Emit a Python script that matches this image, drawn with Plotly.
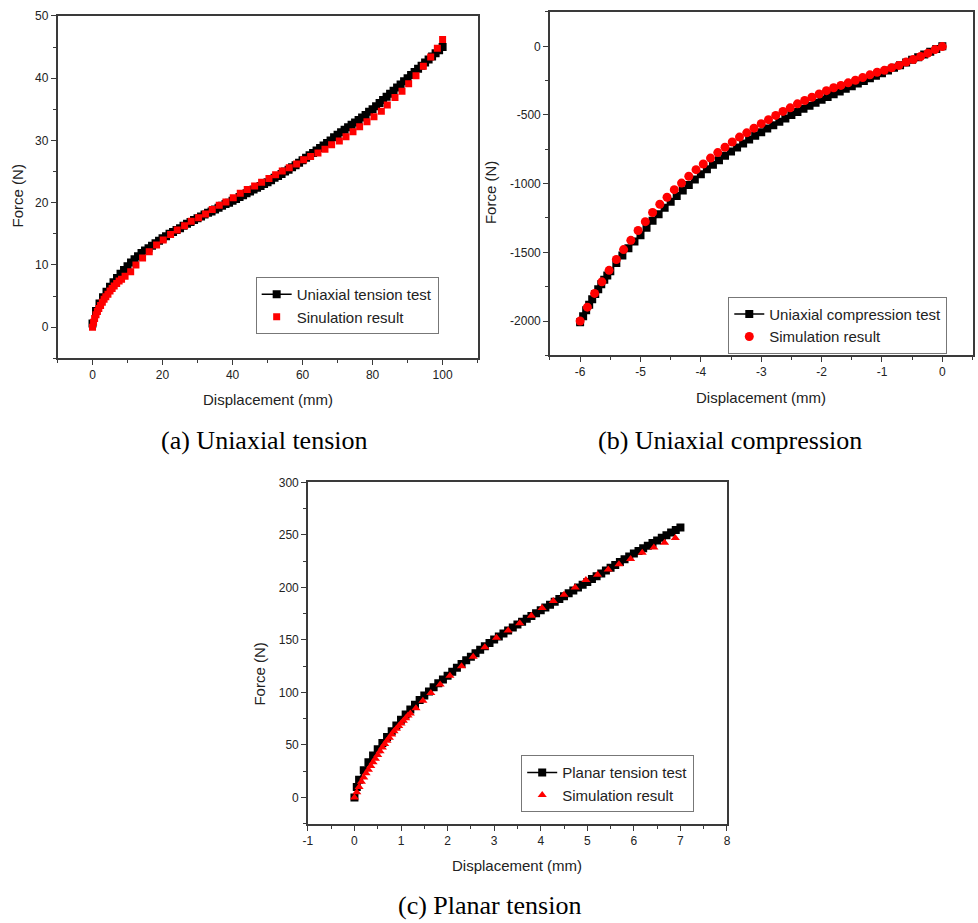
import plotly.graph_objects as go

# ---------------- (a) Uniaxial tension ----------------
a_test_x = list(range(0, 101))
a_test_y = [0.6, 2.6, 3.8, 4.8, 5.7, 6.5, 7.2, 7.9, 8.6, 9.2,
            9.8, 10.4, 10.9, 11.4, 11.9, 12.3, 12.7, 13.1, 13.5, 13.9,
            14.3, 14.6, 15.0, 15.3, 15.6, 15.9, 16.3, 16.6, 16.9, 17.2,
            17.5, 17.8, 18.1, 18.4, 18.6, 18.9, 19.2, 19.5, 19.8, 20.0,
            20.3, 20.6, 20.9, 21.2, 21.5, 21.8, 22.1, 22.4, 22.7, 23.0,
            23.3, 23.6, 24.0, 24.3, 24.6, 25.0, 25.3, 25.7, 26.0, 26.4,
            26.8, 27.2, 27.6, 28.0, 28.4, 28.8, 29.2, 29.6, 30.0, 30.5,
            30.9, 31.3, 31.7, 32.1, 32.5, 32.9, 33.3, 33.7, 34.1, 34.6,
            35.0, 35.5, 36.0, 36.5, 37.0, 37.5, 38.0, 38.5, 39.0, 39.5,
            40.0, 40.5, 41.0, 41.5, 42.0, 42.5, 43.0, 43.5, 44.0, 44.5,
            45.0]
a_sim_x = [0.0, 0.3, 0.6, 1.0, 1.4, 1.8, 2.3, 2.8, 3.3, 3.8, 4.4, 5.0, 5.6, 6.2,
           6.9, 7.6, 8.3, 9.3, 10.9, 12.4, 14.3, 16.2, 18.3, 20.2, 22.3, 24.2,
           26.3, 28.2, 30.3, 32.3, 34.2, 36.2, 38.1, 40.2, 42.2, 44.2, 46.3,
           48.3, 50.4, 52.3, 54.2, 56.2, 58.3, 60.3, 62.3, 64.4, 66.4, 68.3,
           70.5, 72.4, 74.4, 76.3, 78.4, 80.4, 82.5, 84.2, 86.4, 88.4, 90.3,
           92.4, 94.5, 96.6, 98.5, 100.0]
a_sim_y = [0.0, 0.8, 1.4, 2.0, 2.5, 3.0, 3.5, 4.0, 4.5, 4.9, 5.3, 5.8, 6.2, 6.6,
           7.0, 7.4, 7.7, 8.2, 8.9, 10.0, 11.1, 12.1, 13.2, 14.0, 14.9, 15.6,
           16.3, 17.0, 17.6, 18.2, 18.9, 19.6, 20.1, 20.8, 21.5, 22.1, 22.7,
           23.3, 23.9, 24.5, 25.1, 25.6, 26.2, 26.9, 27.4, 28.0, 28.6, 29.3,
           29.9, 30.6, 31.4, 32.2, 33.0, 33.8, 34.7, 35.7, 36.9, 37.9, 39.1,
           40.4, 41.9, 43.4, 44.8, 46.2]
a_xticks = [0, 20, 40, 60, 80, 100]
a_yticks = [0, 10, 20, 30, 40, 50]

# ---------------- (b) Uniaxial compression ----------------
b_test_x = [-6.0, -5.95, -5.9, -5.85, -5.8, -5.75, -5.7, -5.65, -5.6, -5.55, -5.5,
            -5.4, -5.3, -5.2, -5.1, -5.0, -4.9, -4.8, -4.7, -4.6, -4.5,
            -4.4, -4.3, -4.2, -4.1, -4.0, -3.9, -3.8, -3.7, -3.6, -3.5,
            -3.4, -3.3, -3.2, -3.1, -3.0, -2.9, -2.8, -2.7, -2.6, -2.5,
            -2.4, -2.3, -2.2, -2.1, -2.0, -1.9, -1.8, -1.7, -1.6, -1.5,
            -1.4, -1.3, -1.2, -1.1, -1.0, -0.9, -0.8, -0.7, -0.6, -0.5,
            -0.4, -0.3, -0.2, -0.1, 0.0]
b_test_y = [-2010, -1965, -1922, -1881, -1842, -1804, -1768, -1733, -1700, -1668, -1637,
            -1578, -1523, -1471, -1422, -1375, -1321, -1270, -1222, -1176, -1132,
            -1090, -1049, -1009, -970, -932, -896, -862, -829, -797, -766,
            -736, -707, -679, -652, -625, -599, -574, -549, -525, -501,
            -478, -455, -433, -411, -390, -369, -349, -329, -309, -290,
            -271, -252, -233, -215, -197, -177, -157, -138, -118, -98,
            -79, -59, -39, -20, 0]
b_sim_x = [-6.0, -5.88, -5.76, -5.64, -5.52, -5.4, -5.28, -5.16, -5.04, -4.92,
           -4.8, -4.68, -4.56, -4.44, -4.32, -4.2, -4.08, -3.96, -3.84, -3.72,
           -3.6, -3.48, -3.36, -3.24, -3.12, -3.0, -2.88, -2.76, -2.64, -2.52,
           -2.4, -2.28, -2.16, -2.04, -1.92, -1.8, -1.68, -1.56, -1.44, -1.32,
           -1.2, -1.08, -0.96, -0.84, -0.72, -0.6, -0.48, -0.36, -0.24, -0.12, 0.0]
b_sim_y = [-2000, -1899, -1799, -1715, -1631, -1552, -1480, -1413, -1341, -1277,
           -1210, -1150, -1099, -1044, -996, -946, -898, -857, -814, -774,
           -735, -697, -661, -630, -596, -563, -534, -503, -474, -448,
           -419, -395, -371, -347, -323, -302, -285, -266, -247, -228,
           -208, -189, -175, -156, -139, -115, -96, -74, -50, -24, -2]
b_xticks = [-6, -5, -4, -3, -2, -1, 0]
b_xtext = ["-6", "-5", "-4", "-3", "-2", "-1", "0"]
b_yticks = [-2000, -1500, -1000, -500, 0]
b_ytext = ["-2000", "-1500", "-1000", "-500", "0"]

# ---------------- (c) Planar tension ----------------
c_test_x = [0.0, 0.05, 0.1, 0.2, 0.3, 0.4, 0.5, 0.6, 0.7, 0.8, 0.9,
            1.0, 1.1, 1.2, 1.3, 1.4, 1.5, 1.6, 1.7, 1.8, 1.9,
            2.0, 2.1, 2.2, 2.3, 2.4, 2.5, 2.6, 2.7, 2.8, 2.9,
            3.0, 3.1, 3.2, 3.3, 3.4, 3.5, 3.6, 3.7, 3.8, 3.9,
            4.0, 4.1, 4.2, 4.3, 4.4, 4.5, 4.6, 4.7, 4.8, 4.9,
            5.0, 5.1, 5.2, 5.3, 5.4, 5.5, 5.6, 5.7, 5.8, 5.9,
            6.0, 6.1, 6.2, 6.3, 6.4, 6.5, 6.6, 6.7, 6.8, 6.9, 7.0]
c_test_y = [0, 10, 17, 26, 33.5, 40, 46, 52, 57.5, 63, 68.5,
            74, 79, 83.8, 88.4, 92.8, 97, 101, 104.9, 108.7, 112.4,
            116, 119.8, 123.5, 127.1, 130.6, 134, 137.4, 140.7, 144, 147.2,
            150.4, 153.3, 156.2, 159, 161.8, 164.6, 167.4, 170.1, 172.8, 175.5,
            178.2, 180.9, 183.6, 186.3, 189, 191.7, 194.4, 197.1, 199.8, 202.5,
            205.2, 207.9, 210.6, 213.3, 216, 218.7, 221.4, 224.1, 226.8, 229.5,
            232.2, 234.7, 237.2, 239.7, 242.2, 244.7, 247.2, 249.7, 252.2, 254.7, 257]
c_sim_x = [0.0, 0.05, 0.1, 0.15, 0.2, 0.25, 0.3, 0.35, 0.4, 0.45, 0.5, 0.55, 0.6,
           0.65, 0.7, 0.75, 0.8, 0.85, 0.9, 0.95, 1.0, 1.05, 1.1, 1.15, 1.2,
           1.32, 1.47, 1.64, 1.84, 2.05, 2.3, 2.55, 2.8, 3.05, 3.3, 3.55, 3.8,
           4.03, 4.27, 4.5, 4.74, 4.97, 5.22, 5.45, 5.68, 5.93, 6.18, 6.43,
           6.66, 6.89]
c_sim_y = [0, 5, 10, 15, 19, 23, 26.5, 30, 33.5, 37, 40.5, 44, 47.5,
           51, 54, 57, 60, 63, 65.5, 68, 70.5, 73, 75.5, 78, 80,
           85, 92, 99.5, 107.5, 116, 125, 134, 143, 152, 159, 166, 173,
           180.5, 187, 193, 200, 207, 212, 217, 222, 227, 233, 238,
           242.5, 247]
c_xticks = [-1, 0, 1, 2, 3, 4, 5, 6, 7, 8]
c_xtext = ["-1", "0", "1", "2", "3", "4", "5", "6", "7", "8"]
c_yticks = [0, 50, 100, 150, 200, 250, 300]

captions = ["(a) Uniaxial tension", "(b) Uniaxial compression", "(c) Planar tension"]
test_names = ["Uniaxial tension test", "Uniaxial compression test", "Planar tension test"]
sim_names = ["Sinulation result", "Simulation result", "Simulation result"]

SANS = "Liberation Sans, Arial, sans-serif"
SERIF = "Liberation Serif, Times New Roman, serif"
AX = "#3a3a3a"

fig = go.Figure()

panels = [
    dict(tx=a_test_x, ty=a_test_y, sx=a_sim_x, sy=a_sim_y, sym="square", ssize=7,
         xa="x", ya="y", leg="legend"),
    dict(tx=b_test_x, ty=b_test_y, sx=b_sim_x, sy=b_sim_y, sym="circle", ssize=9,
         xa="x2", ya="y2", leg="legend2"),
    dict(tx=c_test_x, ty=c_test_y, sx=c_sim_x, sy=c_sim_y, sym="triangle-up", ssize=8,
         xa="x3", ya="y3", leg="legend3"),
]
for i, p in enumerate(panels):
    fig.add_trace(go.Scatter(
        x=p["tx"], y=p["ty"], mode="lines+markers", name=test_names[i],
        line=dict(color="black", width=1.5),
        marker=dict(symbol="square", size=8, color="black"),
        xaxis=p["xa"], yaxis=p["ya"], legend=p["leg"]))
    fig.add_trace(go.Scatter(
        x=p["sx"], y=p["sy"], mode="markers", name=sim_names[i],
        marker=dict(symbol=p["sym"], size=p["ssize"], color="#ff0000"),
        xaxis=p["xa"], yaxis=p["ya"], legend=p["leg"]))


def axis(domain, rng, tickvals, ticktext, minor_dtick, anchor, tick0=0):
    return dict(domain=domain, range=rng, tickmode="array", tickvals=tickvals,
                ticktext=ticktext,
                anchor=anchor, showline=True, linecolor=AX, linewidth=1.5,
                mirror=True, ticks="outside", ticklen=5, tickwidth=1.2,
                tickcolor=AX, showgrid=False, zeroline=False,
                tickfont=dict(family=SANS, size=12, color="#222"),
                minor=dict(ticks="outside", ticklen=3, tickwidth=1, tickcolor=AX,
                           tickmode="linear", dtick=minor_dtick, tick0=tick0,
                           showgrid=False))

W, H = 978, 923
def dx(a, b):
    return [a / W, b / W]
def dy(top, bottom):
    return [1 - bottom / H, 1 - top / H]

fig.update_layout(
    width=W, height=H, margin=dict(l=0, r=0, t=0, b=0),
    paper_bgcolor="white", plot_bgcolor="white",
    xaxis=axis(dx(53, 477), [-10, 110], a_xticks, [str(v) for v in a_xticks], 10, "y"),
    yaxis=axis(dy(9, 354), [-5, 50], a_yticks, [str(v) for v in a_yticks], 5, "x"),
    xaxis2=axis(dx(550, 976.5), [-6.5, 0.5], b_xticks, b_xtext, 0.5, "y2"),
    yaxis2=axis(dy(5, 351), [-2250, 250], b_yticks, b_ytext, 250, "x2"),
    xaxis3=axis(dx(305.7, 728.7), [-1, 8], c_xticks, c_xtext, 0.5, "y3"),
    yaxis3=axis(dy(479, 823), [-25, 300], c_yticks, [str(v) for v in c_yticks], 25, "x3"),
)

leg_common = dict(bgcolor="rgba(255,255,255,1)", bordercolor="#777", borderwidth=1,
                  font=dict(family=SANS, size=15, color="#222"),
                  xanchor="left", yanchor="top", tracegroupgap=0,
                  itemwidth=30)
fig.update_layout(
    showlegend=True,
    legend=dict(x=253 / W, y=1 - 272 / H, **leg_common),
    legend2=dict(x=730 / W, y=1 - 292 / H, **leg_common),
    legend3=dict(x=521 / W, y=1 - 754 / H, **leg_common),
)

ann = []
def add_title(text, x, y, rot=0):
    ann.append(dict(text=text, x=x / W, y=1 - y / H, xref="paper", yref="paper",
                    showarrow=False, textangle=rot, xanchor="center", yanchor="middle",
                    font=dict(family=SANS, size=15, color="#222")))

add_title("Displacement (mm)", 265, 395)
add_title("Force (N)", 13, 190, -90)
add_title("Displacement (mm)", 763, 393)
add_title("Force (N)", 490, 187, -90)
add_title("Displacement (mm)", 517, 865)
add_title("Force (N)", 257, 672, -90)

for text, x, y in [(captions[0], 262, 437), (captions[1], 732, 437), (captions[2], 489, 905)]:
    ann.append(dict(text=text, x=x / W, y=1 - y / H, xref="paper", yref="paper",
                    showarrow=False, xanchor="center", yanchor="middle",
                    font=dict(family=SERIF, size=26, color="black")))
fig.update_layout(annotations=ann)

fig.write_html("out.html",
               config={"displayModeBar": False},
               post_script="document.body.style.margin='0px';"
                           "document.body.style.overflow='hidden';")
